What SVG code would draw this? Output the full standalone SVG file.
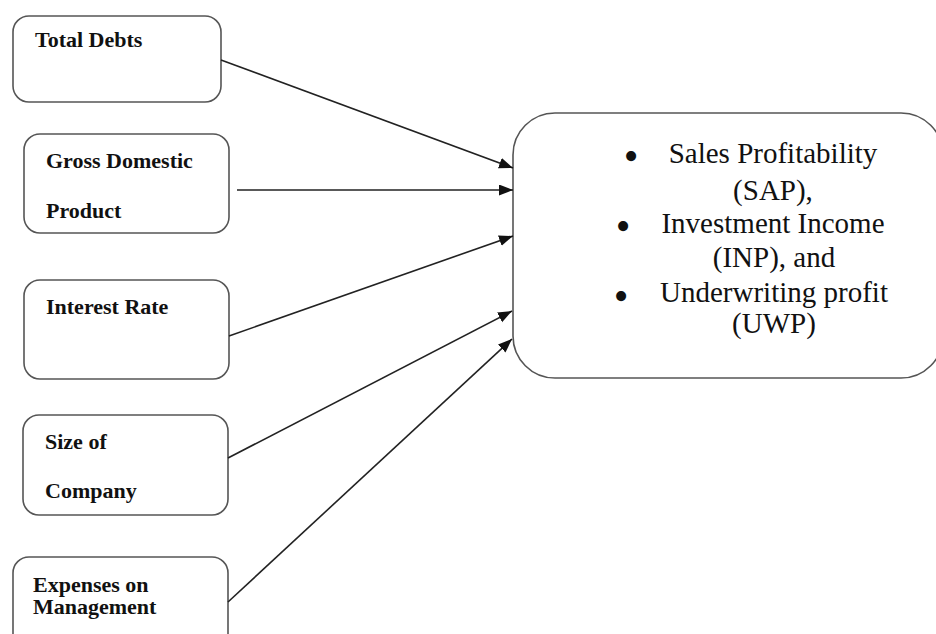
<svg xmlns="http://www.w3.org/2000/svg" width="936" height="634" viewBox="0 0 936 634">
<style>
.box{fill:#fff;stroke:#555;stroke-width:1.6}
.lbl{font-family:"Liberation Serif","Times New Roman",serif;font-weight:bold;font-size:22px;fill:#111}
.out{font-family:"Liberation Serif","Times New Roman",serif;font-size:29px;fill:#111}
.bul{font-family:"Liberation Serif","Times New Roman",serif;font-size:42px;fill:#111}
.conn{stroke:#222;stroke-width:1.6;fill:none;marker-end:url(#ah)}
</style>
<defs>
<marker id="ah" markerUnits="userSpaceOnUse" markerWidth="15" markerHeight="12" refX="14" refY="5.5" orient="auto">
<path d="M0,0 L14,5.5 L0,11 z" fill="#111"/>
</marker>
</defs>
<rect width="936" height="634" fill="#fff"/>
<g id="total-debts">
<rect class="box" x="13" y="16" width="208" height="86" rx="16"/>
<text class="lbl" x="35" y="47">Total Debts</text>
</g>
<g id="gdp">
<rect class="box" x="24" y="134" width="205" height="99" rx="16"/>
<text class="lbl" x="46" y="168">Gross Domestic</text>
<text class="lbl" x="46" y="218">Product</text>
</g>
<g id="interest-rate">
<rect class="box" x="24" y="280" width="205" height="99" rx="16"/>
<text class="lbl" x="46" y="314">Interest Rate</text>
</g>
<g id="size-of-company">
<rect class="box" x="23" y="415" width="205" height="100" rx="16"/>
<text class="lbl" x="45" y="449">Size of</text>
<text class="lbl" x="45" y="498">Company</text>
</g>
<g id="expenses">
<rect class="box" x="13" y="557" width="215" height="110" rx="16"/>
<text class="lbl" x="33" y="592">Expenses on</text>
<text class="lbl" x="33" y="614">Management</text>
</g>
<g id="outcomes">
<rect class="box" x="513" y="113" width="430" height="265" rx="42"/>
<text class="bul" x="631" y="170" text-anchor="middle">•</text>
<text class="out" x="773" y="163" text-anchor="middle">Sales Profitability</text>
<text class="out" x="773" y="200" text-anchor="middle">(SAP),</text>
<text class="bul" x="623" y="240" text-anchor="middle">•</text>
<text class="out" x="773" y="233" text-anchor="middle">Investment Income</text>
<text class="out" x="774" y="267" text-anchor="middle">(INP), and</text>
<text class="bul" x="621" y="310" text-anchor="middle">•</text>
<text class="out" x="774" y="302" text-anchor="middle">Underwriting profit</text>
<text class="out" x="774" y="333" text-anchor="middle">(UWP)</text>
</g>
<g id="connectors">
<line class="conn" x1="221" y1="60" x2="513" y2="168"/>
<line class="conn" x1="237" y1="190" x2="513" y2="190"/>
<line class="conn" x1="229" y1="336" x2="513" y2="236"/>
<line class="conn" x1="228" y1="458" x2="512" y2="311"/>
<line class="conn" x1="228" y1="602" x2="512" y2="339"/>
</g>
</svg>
